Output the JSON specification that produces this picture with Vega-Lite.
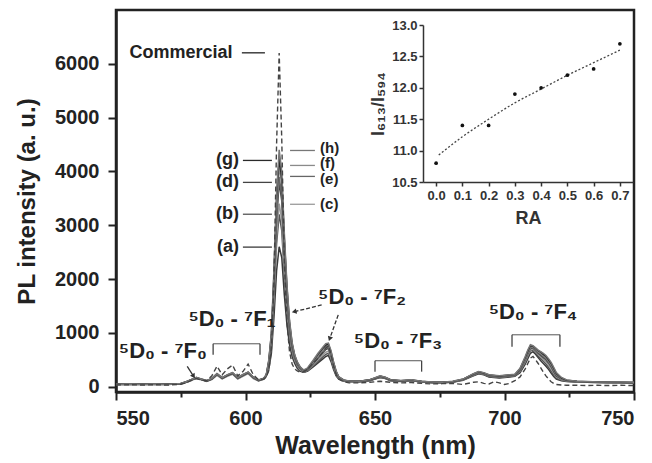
{
  "$schema": "https://vega.github.io/schema/vega-lite/v6.json",
  "autosize": {"type": "none"},
  "width": 518,
  "height": 382,
  "padding": {"left": 116, "top": 10, "right": 18, "bottom": 71},
  "background": "white",
  "config": {
    "view": {"stroke": "#222", "strokeWidth": 2.5},
    "font": "Liberation Sans",
    "axis": {"grid": false}
  },
  "datasets": {
    "spec": [
      {"w":550,"a":40,"b":45,"c":40,"d":50,"e":45,"f":40,"g":50,"h":45,"k":30},
      {"w":555,"a":42,"b":40,"c":45,"d":45,"e":40,"f":45,"g":42,"h":48,"k":35},
      {"w":560,"a":40,"b":45,"c":42,"d":48,"e":45,"f":40,"g":45,"h":42,"k":30},
      {"w":565,"a":45,"b":42,"c":40,"d":45,"e":48,"f":42,"g":40,"h":45,"k":35},
      {"w":570,"a":42,"b":45,"c":45,"d":40,"e":42,"f":48,"g":45,"h":40,"k":30},
      {"w":575,"a":55,"b":60,"c":50,"d":58,"e":55,"f":60,"g":52,"h":58,"k":45},
      {"w":577,"a":80,"b":90,"c":75,"d":85,"e":80,"f":88,"g":82,"h":86,"k":70},
      {"w":579,"a":120,"b":130,"c":115,"d":125,"e":120,"f":130,"g":125,"h":128,"k":110},
      {"w":581,"a":160,"b":170,"c":150,"d":165,"e":158,"f":172,"g":162,"h":168,"k":150},
      {"w":583,"a":130,"b":140,"c":125,"d":135,"e":130,"f":140,"g":132,"h":138,"k":120},
      {"w":585,"a":100,"b":110,"c":95,"d":105,"e":100,"f":112,"g":104,"h":108,"k":110},
      {"w":587,"a":140,"b":150,"c":130,"d":145,"e":140,"f":155,"g":145,"h":150,"k":200},
      {"w":589,"a":220,"b":240,"c":210,"d":230,"e":225,"f":245,"g":235,"h":240,"k":380},
      {"w":591,"a":150,"b":165,"c":145,"d":160,"e":155,"f":168,"g":160,"h":165,"k":220},
      {"w":593,"a":200,"b":215,"c":190,"d":210,"e":205,"f":220,"g":210,"h":218,"k":330},
      {"w":595,"a":240,"b":255,"c":230,"d":250,"e":245,"f":262,"g":250,"h":258,"k":400},
      {"w":597,"a":150,"b":165,"c":140,"d":160,"e":155,"f":168,"g":160,"h":165,"k":200},
      {"w":599,"a":200,"b":220,"c":190,"d":210,"e":205,"f":225,"g":215,"h":220,"k":280},
      {"w":601,"a":250,"b":265,"c":240,"d":260,"e":255,"f":270,"g":262,"h":268,"k":420},
      {"w":603,"a":160,"b":175,"c":150,"d":170,"e":165,"f":178,"g":170,"h":175,"k":220},
      {"w":605,"a":110,"b":120,"c":105,"d":115,"e":110,"f":125,"g":118,"h":122,"k":130},
      {"w":607,"a":140,"b":150,"c":135,"d":145,"e":140,"f":155,"g":148,"h":152,"k":140},
      {"w":608,"a":190,"b":210,"c":185,"d":200,"e":200,"f":215,"g":210,"h":215,"k":180},
      {"w":609,"a":320,"b":380,"c":400,"d":440,"e":450,"f":470,"g":480,"h":500,"k":300},
      {"w":610,"a":620,"b":750,"c":800,"d":880,"e":900,"f":950,"g":980,"h":1000,"k":700},
      {"w":611,"a":1300,"b":1600,"c":1700,"d":1900,"e":1950,"f":2050,"g":2100,"h":2200,"k":2000},
      {"w":612,"a":2150,"b":2650,"c":2800,"d":3100,"e":3200,"f":3350,"g":3500,"h":3600,"k":4500},
      {"w":613,"a":2600,"b":3200,"c":3400,"d":3800,"e":3900,"f":4100,"g":4250,"h":4400,"k":6200},
      {"w":614,"a":2400,"b":2900,"c":3100,"d":3450,"e":3550,"f":3750,"g":3850,"h":4000,"k":4600},
      {"w":615,"a":1700,"b":2050,"c":2200,"d":2450,"e":2550,"f":2700,"g":2750,"h":2850,"k":2300},
      {"w":616,"a":1150,"b":1400,"c":1500,"d":1650,"e":1700,"f":1800,"g":1850,"h":1900,"k":1200},
      {"w":617,"a":780,"b":920,"c":980,"d":1060,"e":1100,"f":1150,"g":1200,"h":1230,"k":650},
      {"w":618,"a":560,"b":640,"c":680,"d":720,"e":750,"f":780,"g":800,"h":820,"k":420},
      {"w":619,"a":430,"b":480,"c":500,"d":530,"e":550,"f":570,"g":580,"h":590,"k":330},
      {"w":620,"a":340,"b":370,"c":390,"d":410,"e":420,"f":440,"g":450,"h":460,"k":290},
      {"w":621,"a":290,"b":310,"c":320,"d":340,"e":350,"f":360,"g":370,"h":375,"k":270},
      {"w":622,"a":270,"b":280,"c":290,"d":300,"e":305,"f":310,"g":320,"h":325,"k":270},
      {"w":623,"a":270,"b":280,"c":285,"d":290,"e":300,"f":305,"g":310,"h":320,"k":290},
      {"w":624,"a":290,"b":300,"c":305,"d":315,"e":320,"f":330,"g":340,"h":350,"k":330},
      {"w":626,"a":360,"b":380,"c":400,"d":420,"e":430,"f":450,"g":470,"h":480,"k":430},
      {"w":628,"a":440,"b":470,"c":500,"d":530,"e":550,"f":570,"g":600,"h":620,"k":530},
      {"w":630,"a":520,"b":560,"c":600,"d":640,"e":660,"f":690,"g":720,"h":740,"k":650},
      {"w":631,"a":560,"b":600,"c":640,"d":690,"e":710,"f":740,"g":770,"h":800,"k":720},
      {"w":632,"a":580,"b":620,"c":660,"d":710,"e":730,"f":760,"g":790,"h":810,"k":760},
      {"w":633,"a":470,"b":510,"c":540,"d":580,"e":600,"f":620,"g":650,"h":670,"k":600},
      {"w":634,"a":320,"b":350,"c":370,"d":400,"e":410,"f":430,"g":450,"h":460,"k":380},
      {"w":635,"a":200,"b":220,"c":230,"d":250,"e":260,"f":270,"g":280,"h":290,"k":220},
      {"w":636,"a":140,"b":150,"c":155,"d":165,"e":170,"f":175,"g":180,"h":185,"k":140},
      {"w":638,"a":100,"b":105,"c":110,"d":112,"e":115,"f":118,"g":120,"h":122,"k":90},
      {"w":640,"a":90,"b":95,"c":95,"d":100,"e":98,"f":102,"g":100,"h":105,"k":70},
      {"w":644,"a":90,"b":92,"c":95,"d":95,"e":98,"f":100,"g":100,"h":102,"k":70},
      {"w":648,"a":110,"b":115,"c":118,"d":120,"e":122,"f":125,"g":128,"h":130,"k":80},
      {"w":650,"a":140,"b":145,"c":150,"d":152,"e":155,"f":158,"g":160,"h":165,"k":90},
      {"w":652,"a":170,"b":175,"c":180,"d":185,"e":188,"f":190,"g":195,"h":200,"k":100},
      {"w":654,"a":150,"b":155,"c":160,"d":162,"e":165,"f":168,"g":170,"h":175,"k":90},
      {"w":656,"a":110,"b":115,"c":118,"d":120,"e":122,"f":125,"g":128,"h":130,"k":80},
      {"w":660,"a":95,"b":100,"c":100,"d":105,"e":105,"f":108,"g":110,"h":112,"k":70},
      {"w":664,"a":110,"b":115,"c":115,"d":118,"e":120,"f":122,"g":125,"h":128,"k":75},
      {"w":668,"a":85,"b":90,"c":90,"d":92,"e":95,"f":95,"g":98,"h":100,"k":60},
      {"w":672,"a":70,"b":75,"c":75,"d":78,"e":80,"f":80,"g":82,"h":85,"k":50},
      {"w":676,"a":70,"b":72,"c":75,"d":75,"e":78,"f":80,"g":80,"h":82,"k":55},
      {"w":680,"a":80,"b":85,"c":85,"d":88,"e":90,"f":92,"g":95,"h":98,"k":60},
      {"w":684,"a":120,"b":125,"c":128,"d":130,"e":132,"f":135,"g":138,"h":140,"k":40},
      {"w":688,"a":200,"b":210,"c":215,"d":220,"e":225,"f":230,"g":235,"h":240,"k":80},
      {"w":690,"a":240,"b":250,"c":255,"d":260,"e":265,"f":270,"g":275,"h":280,"k":90},
      {"w":692,"a":220,"b":230,"c":235,"d":240,"e":245,"f":250,"g":255,"h":260,"k":60},
      {"w":694,"a":180,"b":190,"c":195,"d":200,"e":205,"f":210,"g":215,"h":220,"k":50},
      {"w":696,"a":170,"b":180,"c":185,"d":190,"e":195,"f":200,"g":205,"h":210,"k":90},
      {"w":698,"a":160,"b":170,"c":175,"d":180,"e":185,"f":190,"g":195,"h":200,"k":70},
      {"w":700,"a":170,"b":180,"c":185,"d":190,"e":195,"f":200,"g":205,"h":210,"k":40},
      {"w":702,"a":180,"b":190,"c":195,"d":200,"e":205,"f":210,"g":215,"h":220,"k":60},
      {"w":704,"a":190,"b":200,"c":205,"d":210,"e":215,"f":220,"g":225,"h":230,"k":110},
      {"w":706,"a":260,"b":280,"c":290,"d":300,"e":310,"f":320,"g":330,"h":340,"k":180},
      {"w":708,"a":420,"b":450,"c":470,"d":490,"e":500,"f":520,"g":540,"h":560,"k":330},
      {"w":709,"a":520,"b":560,"c":580,"d":610,"e":620,"f":640,"g":660,"h":680,"k":430},
      {"w":710,"a":620,"b":660,"c":680,"d":710,"e":720,"f":740,"g":760,"h":780,"k":530},
      {"w":711,"a":650,"b":690,"c":700,"d":720,"e":730,"f":740,"g":750,"h":760,"k":560},
      {"w":712,"a":600,"b":630,"c":650,"d":670,"e":680,"f":700,"g":710,"h":720,"k":500},
      {"w":713,"a":540,"b":570,"c":600,"d":620,"e":640,"f":650,"g":670,"h":680,"k":430},
      {"w":714,"a":480,"b":520,"c":550,"d":580,"e":600,"f":620,"g":640,"h":650,"k":350},
      {"w":715,"a":430,"b":470,"c":510,"d":540,"e":560,"f":580,"g":600,"h":620,"k":270},
      {"w":716,"a":380,"b":420,"c":460,"d":500,"e":520,"f":540,"g":560,"h":580,"k":200},
      {"w":717,"a":320,"b":360,"c":400,"d":440,"e":460,"f":480,"g":500,"h":520,"k":140},
      {"w":718,"a":250,"b":290,"c":330,"d":370,"e":390,"f":410,"g":430,"h":450,"k":90},
      {"w":719,"a":190,"b":220,"c":250,"d":280,"e":300,"f":320,"g":340,"h":360,"k":60},
      {"w":720,"a":140,"b":160,"c":180,"d":200,"e":215,"f":230,"g":245,"h":260,"k":40},
      {"w":722,"a":110,"b":120,"c":130,"d":140,"e":145,"f":150,"g":160,"h":170,"k":30},
      {"w":724,"a":95,"b":100,"c":105,"d":110,"e":112,"f":115,"g":120,"h":125,"k":25},
      {"w":728,"a":85,"b":88,"c":90,"d":92,"e":95,"f":96,"g":98,"h":100,"k":25},
      {"w":732,"a":80,"b":82,"c":85,"d":86,"e":88,"f":90,"g":92,"h":94,"k":20},
      {"w":736,"a":75,"b":78,"c":80,"d":82,"e":84,"f":85,"g":86,"h":88,"k":25},
      {"w":740,"a":72,"b":75,"c":76,"d":78,"e":80,"f":82,"g":84,"h":85,"k":20},
      {"w":745,"a":70,"b":72,"c":74,"d":75,"e":78,"f":80,"g":82,"h":84,"k":25},
      {"w":750,"a":65,"b":68,"c":70,"d":72,"e":74,"f":76,"g":78,"h":80,"k":20}
    ],
    "trans": [
      {"x": 568.1, "y": 667, "t": "⁵D₀ - ⁷F₀"},
      {"x": 594.8, "y": 1259, "t": "⁵D₀ - ⁷F₁"},
      {"x": 645.0, "y": 1667, "t": "⁵D₀ - ⁷F₂"},
      {"x": 658.9, "y": 852, "t": "⁵D₀ - ⁷F₃"},
      {"x": 711.0, "y": 1389, "t": "⁵D₀ - ⁷F₄"}
    ],
    "labL": [
      {"x": 595.0, "y": 6204, "t": "Commercial"},
      {"x": 597.5, "y": 4204, "t": "(g)"},
      {"x": 597.5, "y": 3796, "t": "(d)"},
      {"x": 597.5, "y": 3204, "t": "(b)"},
      {"x": 597.5, "y": 2593, "t": "(a)"}
    ],
    "labR": [
      {"x": 628.8, "y": 4444, "t": "(h)"},
      {"x": 628.8, "y": 4148, "t": "(f)"},
      {"x": 628.8, "y": 3852, "t": "(e)"},
      {"x": 628.8, "y": 3389, "t": "(c)"}
    ],
    "lead": [
      {"x1": 598.6, "x2": 607.5, "y": 6204, "s": "k"},
      {"x1": 599.0, "x2": 610.2, "y": 4204, "s": "g"},
      {"x1": 599.0, "x2": 610.2, "y": 3796, "s": "d"},
      {"x1": 599.0, "x2": 610.2, "y": 3204, "s": "b"},
      {"x1": 599.0, "x2": 610.2, "y": 2593, "s": "a"},
      {"x1": 617.2, "x2": 626.8, "y": 4389, "s": "h"},
      {"x1": 617.2, "x2": 626.8, "y": 4111, "s": "f"},
      {"x1": 617.2, "x2": 626.8, "y": 3907, "s": "e"},
      {"x1": 617.2, "x2": 626.8, "y": 3389, "s": "c"}
    ],
    "brk": [
      {"x1": 587.5, "x2": 605.6, "y": 796},
      {"x1": 650.0, "x2": 668.0, "y": 481},
      {"x1": 702.9, "x2": 721.4, "y": 963}
    ],
    "brkv": [
      {"x": 587.5, "y1": 796, "y2": 593},
      {"x": 605.6, "y1": 796, "y2": 593},
      {"x": 650.0, "y1": 481, "y2": 278},
      {"x": 668.0, "y1": 481, "y2": 278},
      {"x": 702.9, "y1": 963, "y2": 741},
      {"x": 721.4, "y1": 963, "y2": 741}
    ],
    "arrSolid": [{"x1": 577.5, "y1": 376, "x2": 579.8, "y2": 204}],
    "arrDash": [
      {"x1": 629.4, "y1": 1519, "x2": 619.1, "y2": 1395},
      {"x1": 635.8, "y1": 1333, "x2": 632.6, "y2": 902}
    ],
    "ratio": [
      {"ra": 0.0, "r": 10.8}, {"ra": 0.1, "r": 11.4}, {"ra": 0.2, "r": 11.4}, {"ra": 0.3, "r": 11.9},
      {"ra": 0.4, "r": 12.0}, {"ra": 0.5, "r": 12.2}, {"ra": 0.6, "r": 12.3}, {"ra": 0.7, "r": 12.7}
    ],
    "fit": [
      {"ra": 0.01, "r": 10.93}, {"ra": 0.1, "r": 11.22}, {"ra": 0.2, "r": 11.5}, {"ra": 0.3, "r": 11.76},
      {"ra": 0.4, "r": 11.98}, {"ra": 0.5, "r": 12.2}, {"ra": 0.6, "r": 12.4}, {"ra": 0.7, "r": 12.6}
    ]
  },
  "layer": [
    {
      "layer": [
        {
          "data": {"name": "spec"},
          "transform": [{"fold": ["a", "b", "c", "d", "e", "f", "g", "h"], "as": ["series", "value"]}],
          "mark": {"type": "line", "strokeWidth": 1.5},
          "encoding": {
            "x": {
              "field": "w", "type": "quantitative", "title": "Wavelength (nm)",
              "scale": {"domain": [550, 750], "nice": false, "zero": false},
              "axis": {
                "orient": "bottom",
                "values": [550, 575, 600, 625, 650, 675, 700, 725, 750],
                "format": "d",
                "labelExpr": "datum.value % 50 === 0 ? datum.label : ''",
                "tickSize": {"condition": {"test": "datum.value % 50 === 0", "value": 8}, "value": 5},
                "tickWidth": 2, "tickColor": "#222",
                "domainColor": "#222", "domainWidth": 2.5,
                "labelFontSize": 20, "labelFontWeight": "bold", "labelColor": "#222", "labelPadding": 8,
                "titleFontSize": 25, "titleFontWeight": "bold", "titleColor": "#222", "titlePadding": 5
              }
            },
            "y": {
              "field": "value", "type": "quantitative", "title": "PL intensity (a. u.)",
              "scale": {"domain": [-100, 7000], "nice": false, "zero": false},
              "axis": {
                "orient": "left",
                "values": [0, 500, 1000, 1500, 2000, 2500, 3000, 3500, 4000, 4500, 5000, 5500, 6000, 6500],
                "format": "d",
                "labelExpr": "datum.value % 1000 === 0 ? datum.label : ''",
                "tickSize": {"condition": {"test": "datum.value % 1000 === 0", "value": 8}, "value": 5},
                "tickWidth": 2, "tickColor": "#222",
                "domainColor": "#222", "domainWidth": 2.5,
                "labelFontSize": 20, "labelFontWeight": "bold", "labelColor": "#222", "labelPadding": 9,
                "titleFontSize": 24, "titleFontWeight": "bold", "titleColor": "#222", "titlePadding": 15
              }
            },
            "color": {
              "field": "series", "type": "nominal", "legend": null,
              "scale": {"domain": ["a", "b", "c", "d", "e", "f", "g", "h", "k"], "range": ["#3a3a3a", "#555555", "#9a9a9a", "#444444", "#666666", "#8a8a8a", "#2a2a2a", "#777777", "#222222"]}
            }
          }
        },
        {
          "data": {"name": "spec"},
          "mark": {"type": "line", "strokeWidth": 1.4, "strokeDash": [5, 3], "color": "#444444"},
          "encoding": {
            "x": {"field": "w", "type": "quantitative"},
            "y": {"field": "k", "type": "quantitative"}
          }
        },
        {
          "data": {"name": "lead"},
          "mark": {"type": "rule", "strokeWidth": 1.3},
          "encoding": {
            "x": {"field": "x1", "type": "quantitative"},
            "x2": {"field": "x2"},
            "y": {"field": "y", "type": "quantitative"},
            "color": {"field": "s", "type": "nominal", "legend": null}
          }
        },
        {
          "data": {"name": "labL"},
          "mark": {"type": "text", "align": "right", "baseline": "middle", "fontSize": 18, "fontWeight": "bold", "color": "#222"},
          "encoding": {
            "x": {"field": "x", "type": "quantitative"},
            "y": {"field": "y", "type": "quantitative"},
            "text": {"field": "t"}
          }
        },
        {
          "data": {"name": "labR"},
          "mark": {"type": "text", "align": "left", "baseline": "middle", "fontSize": 15, "fontWeight": "bold", "color": "#222"},
          "encoding": {
            "x": {"field": "x", "type": "quantitative"},
            "y": {"field": "y", "type": "quantitative"},
            "text": {"field": "t"}
          }
        },
        {
          "data": {"name": "trans"},
          "mark": {"type": "text", "align": "center", "baseline": "middle", "fontSize": 22, "fontWeight": "bold", "color": "#222"},
          "encoding": {
            "x": {"field": "x", "type": "quantitative"},
            "y": {"field": "y", "type": "quantitative"},
            "text": {"field": "t"}
          }
        },
        {
          "data": {"name": "brk"},
          "mark": {"type": "rule", "strokeWidth": 1, "color": "#555"},
          "encoding": {
            "x": {"field": "x1", "type": "quantitative"},
            "x2": {"field": "x2"},
            "y": {"field": "y", "type": "quantitative"}
          }
        },
        {
          "data": {"name": "brkv"},
          "mark": {"type": "rule", "strokeWidth": 1.3, "color": "#444"},
          "encoding": {
            "x": {"field": "x", "type": "quantitative"},
            "y": {"field": "y1", "type": "quantitative"},
            "y2": {"field": "y2"}
          }
        },
        {
          "data": {"name": "arrSolid"},
          "mark": {"type": "rule", "strokeWidth": 1.3, "color": "#333"},
          "encoding": {
            "x": {"field": "x1", "type": "quantitative"},
            "y": {"field": "y1", "type": "quantitative"},
            "x2": {"field": "x2"},
            "y2": {"field": "y2"}
          }
        },
        {
          "data": {"name": "arrDash"},
          "mark": {"type": "rule", "strokeWidth": 1.3, "color": "#333", "strokeDash": [4, 2]},
          "encoding": {
            "x": {"field": "x1", "type": "quantitative"},
            "y": {"field": "y1", "type": "quantitative"},
            "x2": {"field": "x2"},
            "y2": {"field": "y2"}
          }
        },
        {
          "data": {"values": [{"x": 579.8, "y": 204}]},
          "mark": {"type": "point", "shape": "triangle", "filled": true, "size": 30, "angle": 147, "color": "#333", "opacity": 1},
          "encoding": {"x": {"field": "x", "type": "quantitative"}, "y": {"field": "y", "type": "quantitative"}}
        },
        {
          "data": {"values": [{"x": 619.1, "y": 1395}]},
          "mark": {"type": "point", "shape": "triangle", "filled": true, "size": 30, "angle": 256, "color": "#333", "opacity": 1},
          "encoding": {"x": {"field": "x", "type": "quantitative"}, "y": {"field": "y", "type": "quantitative"}}
        },
        {
          "data": {"values": [{"x": 632.6, "y": 902}]},
          "mark": {"type": "point", "shape": "triangle", "filled": true, "size": 30, "angle": 200, "color": "#333", "opacity": 1},
          "encoding": {"x": {"field": "x", "type": "quantitative"}, "y": {"field": "y", "type": "quantitative"}}
        }
      ]
    },
    {
      "layer": [
        {
          "data": {"name": "fit"},
          "mark": {"type": "line", "strokeWidth": 1.3, "strokeDash": [2, 2], "color": "#444", "interpolate": "monotone"},
          "encoding": {
            "x": {
              "field": "ra", "type": "quantitative", "title": "RA",
              "scale": {"domain": [-0.05, 0.75], "range": [307, 517], "nice": false, "zero": false},
              "axis": {
                "orient": "bottom", "offset": -210,
                "values": [0, 0.1, 0.2, 0.3, 0.4, 0.5, 0.6, 0.7],
                "format": ".1f",
                "tickSize": 4, "tickWidth": 1.5, "tickColor": "#333",
                "domainColor": "#333", "domainWidth": 1.5,
                "labelFontSize": 13, "labelFontWeight": "bold", "labelColor": "#333", "labelPadding": 3,
                "titleFontSize": 18, "titleFontWeight": "bold", "titleColor": "#333", "titlePadding": 7
              }
            },
            "y": {
              "field": "r", "type": "quantitative", "title": "I₆₁₃/I₅₉₄",
              "scale": {"domain": [10.5, 13.0], "range": [172, 15], "nice": false, "zero": false},
              "axis": {
                "orient": "left", "offset": -307,
                "values": [10.5, 10.75, 11.0, 11.25, 11.5, 11.75, 12.0, 12.25, 12.5, 12.75, 13.0],
                "format": ".1f",
                "labelExpr": "round(datum.value * 2) === datum.value * 2 ? datum.label : ''",
                "tickSize": {"condition": {"test": "round(datum.value * 2) === datum.value * 2", "value": 4}, "value": 2},
                "tickWidth": 1.5, "tickColor": "#333",
                "domainColor": "#333", "domainWidth": 1.5,
                "labelFontSize": 13, "labelFontWeight": "bold", "labelColor": "#333", "labelPadding": 2,
                "titleFontSize": 18, "titleFontWeight": "bold", "titleColor": "#333", "titlePadding": 4
              }
            }
          }
        },
        {
          "data": {"name": "ratio"},
          "mark": {"type": "point", "shape": "circle", "filled": true, "size": 14, "color": "#111", "opacity": 1},
          "encoding": {
            "x": {"field": "ra", "type": "quantitative"},
            "y": {"field": "r", "type": "quantitative"}
          }
        }
      ]
    }
  ],
  "resolve": {"scale": {"x": "independent", "y": "independent"}, "axis": {"x": "independent", "y": "independent"}}
}
